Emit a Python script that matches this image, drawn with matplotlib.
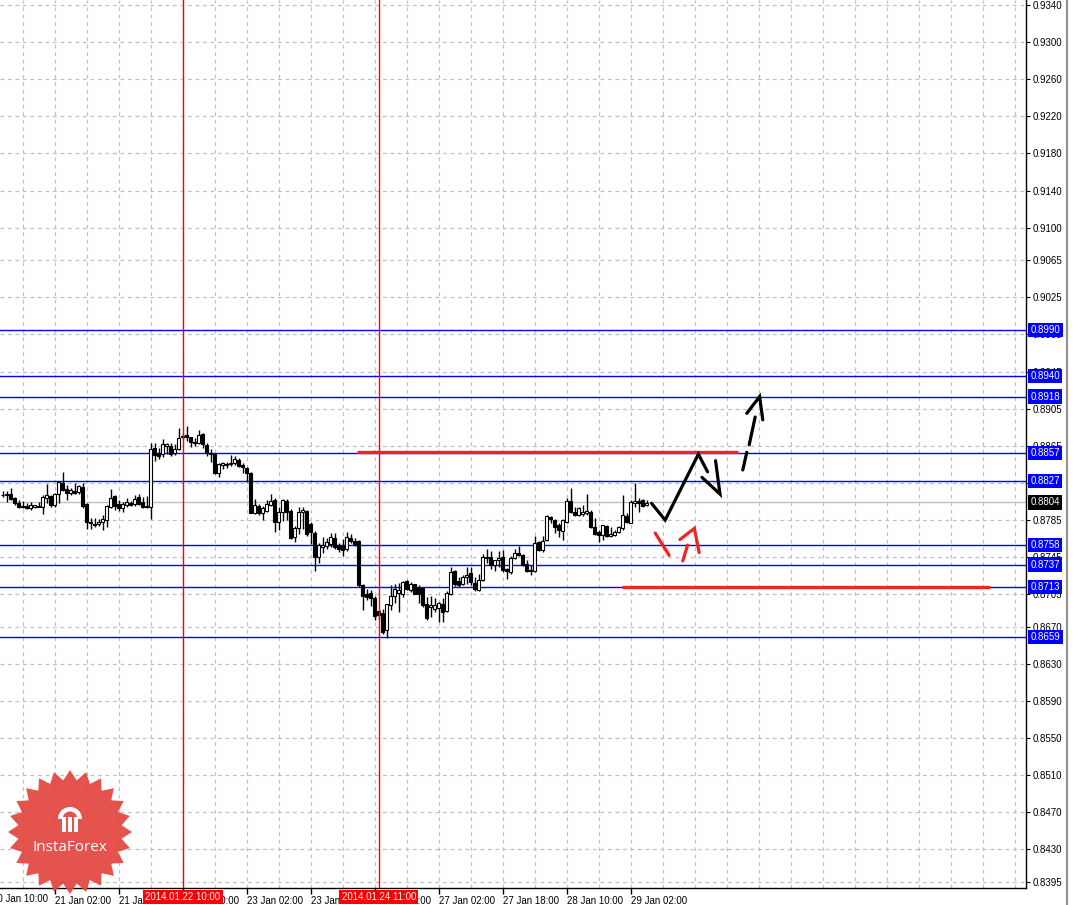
import numpy as np
import matplotlib

matplotlib.use('Agg')

import matplotlib.pyplot as plt
import matplotlib.transforms as mtransforms
from matplotlib.lines import Line2D
from matplotlib.patches import Polygon, Rectangle, Wedge

plt.rcParams['font.family'] = ['Liberation Sans', 'DejaVu Sans']

# H1 candles, prices in pips (1e-4)
open_pips = [
    8811.6, 8811.6, 8813.1, 8808.4, 8803.0, 8798.7, 8800.1, 8798.3, 8799.4, 8800.1,
    8798.7, 8808.4, 8810.9, 8801.2, 8813.1, 8825.3, 8818.1, 8813.8, 8816.7, 8815.6,
    8821.0, 8801.9, 8783.2, 8780.7, 8780.3, 8783.2, 8785.0, 8798.7, 8810.9, 8802.3,
    8797.6, 8801.2, 8803.7, 8801.9, 8809.5, 8804.8, 8800.1, 8798.7, 8862.4, 8857.0,
    8856.3, 8864.9, 8864.9, 8857.0, 8861.3, 8874.3, 8876.8, 8874.3, 8868.9, 8868.5,
    8877.9, 8866.0, 8857.0, 8855.9, 8835.4, 8844.4, 8844.4, 8845.5, 8846.2, 8849.8,
    8844.4, 8840.8, 8836.1, 8792.2, 8800.1, 8792.9, 8795.1, 8800.8, 8806.6, 8783.2,
    8794.0, 8805.9, 8795.1, 8766.3, 8776.0, 8794.0, 8795.1, 8780.7, 8770.6, 8744.7,
    8756.2, 8756.9, 8759.1, 8765.2, 8758.0, 8758.0, 8753.3, 8765.2, 8762.7, 8762.7,
    8714.8, 8705.1, 8706.5, 8701.5, 8687.1, 8684.9, 8666.2, 8693.2, 8702.9, 8706.5,
    8705.8, 8719.1, 8710.1, 8715.9, 8711.9, 8712.3, 8694.3, 8691.4, 8689.6, 8690.7,
    8694.3, 8687.1, 8705.8, 8730.3, 8719.5, 8715.9, 8723.8, 8728.1, 8717.3, 8709.4,
    8720.2, 8744.2, 8745.3, 8736.3, 8741.7, 8745.3, 8732.7, 8729.1, 8744.6, 8749.6,
    8747.1, 8738.1, 8730.2, 8730.2, 8761.5, 8752.5, 8763.3, 8787.8, 8784.9, 8779.5,
    8773.4, 8783.1, 8805.8, 8793.9, 8790.3, 8791.4, 8792.1, 8793.2, 8777.0, 8772.3,
    8768.7, 8778.4, 8767.6, 8768.7, 8772.3, 8775.9, 8789.2, 8782.0, 8803.6, 8805.4,
    8806.5, 8801.1,
]
high_pips = [
    8816.3, 8816.3, 8819.2, 8809.5, 8806.6, 8805.9, 8803.0, 8804.8, 8801.2, 8804.8,
    8812.0, 8823.5, 8812.0, 8814.5, 8827.1, 8836.8, 8822.8, 8819.2, 8824.6, 8822.8,
    8825.3, 8803.0, 8786.8, 8786.8, 8785.7, 8790.4, 8801.2, 8818.1, 8812.0, 8806.6,
    8804.8, 8808.4, 8805.9, 8812.0, 8813.1, 8809.5, 8810.9, 8867.8, 8868.5, 8862.4,
    8872.1, 8867.8, 8867.8, 8867.1, 8884.0, 8878.6, 8886.5, 8875.0, 8873.2, 8881.5,
    8878.6, 8868.5, 8861.3, 8857.0, 8846.9, 8848.0, 8847.3, 8855.2, 8854.1, 8851.6,
    8846.2, 8842.6, 8837.2, 8807.3, 8802.3, 8800.1, 8806.6, 8813.1, 8808.4, 8799.4,
    8807.3, 8807.3, 8796.5, 8778.5, 8798.7, 8798.7, 8795.8, 8783.2, 8773.5, 8760.5,
    8767.0, 8765.2, 8771.3, 8771.3, 8759.8, 8764.1, 8772.4, 8769.9, 8765.2, 8763.4,
    8716.6, 8711.2, 8710.1, 8702.9, 8687.8, 8689.6, 8695.0, 8714.8, 8716.6, 8717.3,
    8719.5, 8720.2, 8718.4, 8716.6, 8714.8, 8713.0, 8702.2, 8702.9, 8701.5, 8696.8,
    8701.5, 8708.7, 8734.6, 8731.7, 8723.1, 8725.6, 8734.6, 8734.6, 8723.1, 8727.4,
    8747.9, 8754.3, 8751.8, 8742.4, 8751.8, 8752.5, 8733.8, 8746.0, 8754.3, 8756.8,
    8748.2, 8742.4, 8736.3, 8767.6, 8762.6, 8767.6, 8790.3, 8789.2, 8785.6, 8782.0,
    8785.6, 8808.3, 8819.1, 8799.3, 8798.6, 8801.1, 8813.0, 8795.7, 8786.7, 8774.1,
    8779.5, 8779.5, 8777.0, 8774.1, 8778.4, 8811.9, 8792.1, 8806.5, 8825.2, 8808.3,
    8807.2, 8806.5,
]
low_pips = [
    8809.5, 8804.8, 8806.6, 8801.2, 8797.6, 8797.6, 8796.5, 8795.8, 8797.6, 8798.7,
    8791.1, 8803.0, 8798.7, 8799.4, 8803.7, 8816.7, 8806.6, 8812.0, 8813.1, 8812.7,
    8798.3, 8774.9, 8774.9, 8777.1, 8778.5, 8774.2, 8777.8, 8797.6, 8795.8, 8795.1,
    8794.0, 8798.7, 8800.1, 8800.1, 8801.2, 8797.6, 8797.6, 8785.7, 8849.1, 8850.5,
    8852.7, 8855.9, 8854.1, 8855.2, 8860.6, 8872.1, 8870.7, 8863.5, 8864.9, 8867.1,
    8862.4, 8854.1, 8848.0, 8834.7, 8831.1, 8839.7, 8840.8, 8843.7, 8844.4, 8841.9,
    8835.4, 8826.4, 8792.2, 8791.5, 8790.4, 8785.0, 8794.0, 8800.1, 8772.4, 8774.2,
    8784.3, 8785.0, 8764.1, 8761.6, 8769.9, 8774.9, 8767.7, 8759.1, 8730.3, 8738.9,
    8749.7, 8753.3, 8756.2, 8753.3, 8750.8, 8746.1, 8751.9, 8759.8, 8756.9, 8713.0,
    8688.5, 8698.6, 8692.1, 8677.7, 8677.0, 8662.6, 8658.3, 8687.8, 8695.7, 8686.0,
    8702.2, 8709.4, 8707.6, 8705.1, 8695.7, 8691.4, 8677.7, 8680.6, 8686.0, 8675.2,
    8675.2, 8686.0, 8704.0, 8713.7, 8713.0, 8714.8, 8716.6, 8714.8, 8708.7, 8708.7,
    8719.5, 8738.8, 8732.7, 8730.2, 8734.5, 8729.1, 8721.9, 8727.3, 8743.5, 8746.0,
    8735.2, 8729.1, 8725.5, 8729.1, 8751.8, 8750.7, 8762.6, 8782.0, 8771.2, 8766.9,
    8763.3, 8782.0, 8792.1, 8789.2, 8789.2, 8789.2, 8790.3, 8775.9, 8768.7, 8761.5,
    8763.3, 8766.2, 8766.2, 8767.6, 8771.2, 8774.1, 8781.3, 8781.3, 8799.3, 8793.9,
    8799.3, 8800.0,
]
close_pips = [
    8812.4, 8813.1, 8807.3, 8803.0, 8798.7, 8800.1, 8797.6, 8801.2, 8800.8, 8799.4,
    8809.5, 8812.0, 8801.2, 8813.1, 8826.4, 8817.4, 8814.5, 8817.4, 8814.5, 8821.7,
    8800.1, 8783.2, 8781.4, 8779.6, 8783.2, 8785.7, 8800.1, 8809.1, 8800.1, 8797.6,
    8802.3, 8804.8, 8801.2, 8807.3, 8802.3, 8798.7, 8799.4, 8861.3, 8855.2, 8854.1,
    8867.1, 8866.7, 8856.3, 8861.3, 8873.2, 8875.7, 8875.0, 8869.6, 8867.8, 8876.8,
    8867.1, 8857.0, 8856.3, 8836.1, 8845.5, 8846.2, 8845.5, 8846.9, 8850.5, 8843.3,
    8841.9, 8835.4, 8792.9, 8801.2, 8792.9, 8797.6, 8802.3, 8805.9, 8783.2, 8794.0,
    8806.6, 8794.0, 8765.2, 8776.0, 8794.0, 8795.8, 8769.9, 8772.4, 8744.7, 8758.0,
    8758.0, 8761.6, 8766.3, 8756.2, 8753.3, 8752.6, 8766.3, 8762.7, 8759.1, 8714.8,
    8702.9, 8702.2, 8701.5, 8681.3, 8682.4, 8664.4, 8694.3, 8702.9, 8711.2, 8710.1,
    8718.4, 8711.2, 8715.9, 8705.8, 8705.8, 8693.2, 8679.9, 8693.2, 8693.2, 8695.7,
    8686.0, 8706.5, 8729.2, 8716.6, 8714.8, 8723.1, 8725.6, 8718.4, 8711.2, 8720.9,
    8744.7, 8745.3, 8736.3, 8741.7, 8744.6, 8730.9, 8730.2, 8744.6, 8749.6, 8747.1,
    8736.3, 8730.2, 8730.9, 8760.4, 8752.5, 8762.6, 8789.2, 8785.6, 8777.7, 8774.8,
    8784.9, 8805.8, 8793.9, 8790.3, 8797.5, 8793.9, 8795.0, 8777.7, 8770.5, 8768.7,
    8779.5, 8767.6, 8769.8, 8772.3, 8777.0, 8790.3, 8783.1, 8804.7, 8805.4, 8803.6,
    8800.0, 8803.6,
]

price_ticks = [0.9340, 0.9300, 0.9260, 0.9220, 0.9180, 0.9140, 0.9100, 0.9065,
               0.9025, 0.8985, 0.8945, 0.8905, 0.8865, 0.8825, 0.8785, 0.8745,
               0.8705, 0.8670, 0.8630, 0.8590, 0.8550, 0.8510, 0.8470, 0.8430,
               0.8395]
time_tick_bars = [-3, 13, 29, 45, 61, 77, 93, 109, 125, 141, 157]
time_tick_labels = ['20 Jan 10:00', '21 Jan 02:00', '21 Jan 18:00', '22 Jan 10:00',
                    '23 Jan 02:00', '23 Jan 18:00', '24 Jan 10:00', '27 Jan 02:00',
                    '27 Jan 18:00', '28 Jan 10:00', '29 Jan 02:00']
level_prices = [0.8990, 0.8940, 0.8918, 0.8857, 0.8827, 0.8758, 0.8737, 0.8713, 0.8659]
bid_price = 0.8804
marker_bars = [45, 94]
marker_labels = ['2014.01.22 10:00', '2014.01.24 11:00']

# thick red horizontal segments: (start bar, end bar, price)
red_segments = [(88.6, 183.8, 0.8858), (154.8, 246.8, 0.8713)]

# hand drawn forecast arrows (bar index, price)
black_path_x = [162.2, 165.6, 173.9, 176.2]
black_path_y = [0.8803, 0.8785, 0.8856, 0.8837]
black_head_x = [174.8, 179.3, 178.2]
black_head_y = [0.8831, 0.8813, 0.8849]
dash_pieces = [([185.0, 186.0], [0.8839, 0.8858]), ([186.6, 188.1], [0.8866, 0.8896])]
dash_head_x = [186.0, 189.2, 190.0]
dash_head_y = [0.8900, 0.8918, 0.8893]
red_arrow_line1 = ([163.1, 166.6], [0.8771, 0.8747])
red_arrow_line2 = ([170.0, 171.2], [0.8741, 0.8758])
red_head_x = [169.3, 172.9, 174.1]
red_head_y = [0.8764, 0.8776, 0.8750]

W, H = 1076, 905


def draw_logo(fig):
    # InstaForex badge, positioned in inches from the bottom left corner
    cx, cy = 0.70, (H - 832) / 100
    n = 24
    ang = np.linspace(0, 2 * np.pi, 2 * n, endpoint=False) + np.pi / 2
    rad = np.where(np.arange(2 * n) % 2 == 0, 0.62, 0.52)
    pts = np.column_stack([cx + rad * np.cos(ang), cy + rad * np.sin(ang)])
    fig.add_artist(Polygon(pts, closed=True, transform=fig.dpi_scale_trans,
                           facecolor='#e2463f', edgecolor='none', alpha=0.93, zorder=20))
    ix, iy = cx, cy + 0.13
    fig.add_artist(Wedge((ix, iy), 0.12, 0, 180, width=0.045, transform=fig.dpi_scale_trans,
                         facecolor='white', edgecolor='none', zorder=21))
    for dx in (-0.06, 0.0, 0.06):
        fig.add_artist(Rectangle((ix + dx - 0.018, iy - 0.13), 0.036, 0.15,
                                 transform=fig.dpi_scale_trans, facecolor='white',
                                 edgecolor='none', zorder=21))
    fig.text(cx, cy - 0.15, 'InstaForex', transform=fig.dpi_scale_trans, color='white',
             fontsize=11, family=['Open Sans', 'DejaVu Sans'], ha='center', va='center',
             zorder=22)


def main():
    o = np.array(open_pips) / 1e4
    h = np.array(high_pips) / 1e4
    l = np.array(low_pips) / 1e4
    c = np.array(close_pips) / 1e4
    idx = np.arange(len(o))

    fig = plt.figure(figsize=(W / 100, H / 100), dpi=100)
    fig.patch.set_facecolor('white')
    ax = fig.add_axes([0, 17 / H, 1026 / W, 888 / H])
    ax.set_xlim(-0.675, 255.8)
    ax.set_ylim(0.83885, 0.93454)

    # grid
    for b in range(5, 256, 8):
        ax.axvline(b, color='#c0c0c0', lw=0.9, dashes=(3, 3), zorder=1)
    for p in price_ticks:
        ax.axhline(p, color='#c0c0c0', lw=0.9, dashes=(3, 3), zorder=1)
    ax.axhline(bid_price, color='#c0c0c0', lw=1, zorder=1.5)

    for p in level_prices:
        ax.axhline(p, color='#0000ff', lw=1, zorder=2)

    # candles
    ax.vlines(idx, l, h, color='black', lw=1, zorder=3)
    up = c >= o
    body = np.maximum(np.abs(c - o), 0.00002)
    ax.bar(idx, body, bottom=np.minimum(o, c), width=0.72,
           color=np.where(up, 'white', 'black'), edgecolor='black', lw=0.8, zorder=4)

    for b in marker_bars:
        ax.axvline(b, color='#ff0000', lw=1, zorder=5)

    for x0, x1, p in red_segments:
        ax.hlines(p, x0, x1, color='#ee2525', lw=2.4, zorder=6)

    kw = dict(color='black', lw=2.3, solid_capstyle='round', solid_joinstyle='miter', zorder=7)
    ax.plot(black_path_x, black_path_y, **kw)
    ax.plot(black_head_x, black_head_y, **kw)
    for xs, ys in dash_pieces:
        ax.plot(xs, ys, **kw)
    ax.plot(dash_head_x, dash_head_y, **kw)
    rkw = dict(kw, color='#ee2525')
    ax.plot(*red_arrow_line1, **rkw)
    ax.plot(*red_arrow_line2, **rkw)
    ax.plot(red_head_x, red_head_y, **rkw)

    # axes styling
    for side in ('left', 'top'):
        ax.spines[side].set_visible(False)
    for side in ('right', 'bottom'):
        ax.spines[side].set_color('black')
        ax.spines[side].set_linewidth(1)
    ax.yaxis.tick_right()
    ax.set_yticks(price_ticks)
    ax.set_yticklabels([f'{p:.4f}' for p in price_ticks])
    ax.tick_params(axis='y', direction='out', length=3, width=0.8, pad=2,
                   labelsize=7, colors='black')
    ax.set_xticks(time_tick_bars[1:])
    ax.set_xticklabels(time_tick_labels[1:])
    ax.tick_params(axis='x', direction='out', length=4, width=1, pad=1.5, labelsize=7)
    for lab in ax.get_xticklabels():
        lab.set_ha('left')
    xlab = mtransforms.blended_transform_factory(ax.transData, ax.transAxes)
    ax.text(time_tick_bars[0] + 0.3, -0.0068, time_tick_labels[0], transform=xlab,
            fontsize=7, va='top', ha='left', clip_on=False)

    for b, txt in zip(marker_bars, marker_labels):
        ax.text(b, -0.0045, txt, transform=xlab, fontsize=7, color='white', va='top',
                ha='center', clip_on=False, zorder=10,
                bbox=dict(boxstyle='square,pad=0.25', facecolor='#ff0000', edgecolor='none'))

    ylab = mtransforms.blended_transform_factory(ax.transAxes, ax.transData)
    for p in level_prices:
        ax.text(1.0045, p, f'{p:.4f}', transform=ylab, fontsize=7, color='white',
                va='center', ha='left', clip_on=False, zorder=10,
                bbox=dict(boxstyle='square,pad=0.22', facecolor='#0000ff', edgecolor='none'))
    ax.text(1.0045, bid_price, f'{bid_price:.4f}', transform=ylab, fontsize=7,
            color='white', va='center', ha='left', clip_on=False, zorder=10,
            bbox=dict(boxstyle='square,pad=0.22', facecolor='black', edgecolor='none'))

    fig.add_artist(Line2D([1067 / W] * 2, [0, 1], transform=fig.transFigure,
                          color='#909090', lw=1.5))

    draw_logo(fig)
    fig.savefig('out.png', dpi=100)
    plt.close(fig)


if __name__ == '__main__':
    main()
